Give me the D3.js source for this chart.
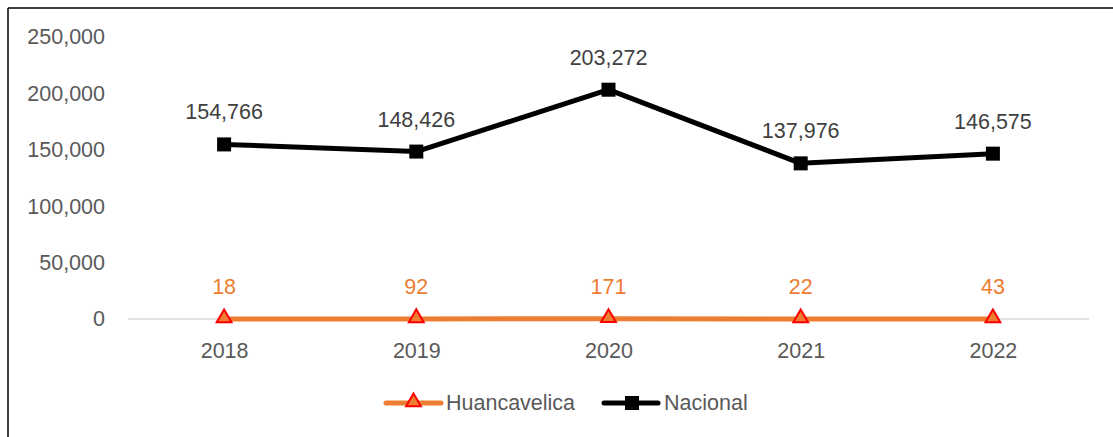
<!DOCTYPE html>
<html>
<head>
<meta charset="utf-8">
<script src="https://cdn.jsdelivr.net/npm/d3@7"></script>
<style>
  body { margin: 0; background: #fff; }
  svg { display: block; }
  text { font-family: "Liberation Sans", Arial, sans-serif; }
</style>
</head>
<body>
<div id="chart"></div>
<script>
const years = ["2018", "2019", "2020", "2021", "2022"]
const huancavelica = [18, 92, 171, 22, 43]
const nacional = [154766, 148426, 203272, 137976, 146575]
const yTicks = [0, 50000, 100000, 150000, 200000, 250000]

const W = 1113, H = 437
const MARGIN = { TOP: 37, LEFT: 128, RIGHT: 24, BOTTOM: 118 }
const ORANGE = "#ED7D31"
const GREY = "#595959"
const FS = "21.5px"

const svg = d3.select("#chart").append("svg")
	.attr("width", W)
	.attr("height", H)

// frame (only top and left edges are visible in the crop)
svg.append("line").attr("x1", 8).attr("y1", 8).attr("x2", W).attr("y2", 8)
	.attr("stroke", "#000").attr("stroke-width", 1.5)
svg.append("line").attr("x1", 8).attr("y1", 8).attr("x2", 8).attr("y2", H)
	.attr("stroke", "#000").attr("stroke-width", 1.5)

const x = d3.scalePoint()
	.domain(years)
	.range([MARGIN.LEFT, W - MARGIN.RIGHT])
	.padding(0.5)

const y = d3.scaleLinear()
	.domain([0, 250000])
	.range([H - MARGIN.BOTTOM, MARGIN.TOP])

const fmt = d3.format(",")

// y axis labels
const yAxis = svg.append("g")
	.attr("transform", `translate(${MARGIN.LEFT - 23},0)`)
	.call(d3.axisLeft(y).tickValues(yTicks).tickFormat(fmt).tickSize(0))
yAxis.select(".domain").remove()
yAxis.selectAll("text")
	.attr("x", 0)
	.attr("fill", GREY)
	.style("font-size", FS)

// baseline
svg.append("line")
	.attr("x1", MARGIN.LEFT).attr("x2", W - MARGIN.RIGHT)
	.attr("y1", y(0)).attr("y2", y(0))
	.attr("stroke", "#d9d9d9").attr("stroke-width", 1.5)

// x axis labels
const xAxis = svg.append("g")
	.attr("transform", `translate(0,${y(0)})`)
	.call(d3.axisBottom(x).tickSize(0))
xAxis.select(".domain").remove()
xAxis.selectAll("text")
	.attr("dy", "0")
	.attr("y", 39)
	.attr("fill", GREY)
	.style("font-size", FS)

const line = d3.line()
	.x((d, i) => x(years[i]))
	.y(d => y(d))

// Huancavelica
svg.append("path")
	.datum(huancavelica)
	.attr("d", line)
	.attr("fill", "none")
	.attr("stroke", ORANGE)
	.attr("stroke-width", 5)

const tri = d3.symbol().type(d3.symbolTriangle).size(95)

svg.selectAll("path.hTri")
	.data(huancavelica)
	.enter().append("path")
		.attr("class", "hTri")
		.attr("d", tri)
		.attr("transform", (d, i) => `translate(${x(years[i])},${y(d) - 1})`)
		.attr("fill", ORANGE)
		.attr("stroke", "#FF0000")
		.attr("stroke-width", 2)

svg.selectAll("text.hLabel")
	.data(huancavelica)
	.enter().append("text")
		.attr("class", "hLabel")
		.attr("x", (d, i) => x(years[i]))
		.attr("y", d => y(d) - 25)
		.attr("text-anchor", "middle")
		.attr("fill", ORANGE)
		.style("font-size", FS)
		.text(d => fmt(d))

// Nacional
svg.append("path")
	.datum(nacional)
	.attr("d", line)
	.attr("fill", "none")
	.attr("stroke", "#000")
	.attr("stroke-width", 5)
	.attr("stroke-linejoin", "round")

svg.selectAll("rect.nSq")
	.data(nacional)
	.enter().append("rect")
		.attr("class", "nSq")
		.attr("x", (d, i) => x(years[i]) - 7)
		.attr("y", d => y(d) - 7)
		.attr("width", 14)
		.attr("height", 14)
		.attr("fill", "#000")

svg.selectAll("text.nLabel")
	.data(nacional)
	.enter().append("text")
		.attr("class", "nLabel")
		.attr("x", (d, i) => x(years[i]))
		.attr("y", d => y(d) - 25)
		.attr("text-anchor", "middle")
		.attr("fill", "#404040")
		.style("font-size", FS)
		.text(d => fmt(d))

// legend
const legend = svg.append("g").attr("transform", "translate(0,403)")

const lg1 = legend.append("g").attr("transform", "translate(386,0)")
lg1.append("line").attr("x1", 0).attr("x2", 55).attr("y1", 0).attr("y2", 0)
	.attr("stroke", ORANGE).attr("stroke-width", 5).attr("stroke-linecap", "round")
lg1.append("path").attr("d", tri).attr("transform", "translate(27.5,-1)")
	.attr("fill", ORANGE).attr("stroke", "#FF0000").attr("stroke-width", 2)
lg1.append("text").attr("x", 60).attr("y", 7).attr("fill", GREY)
	.style("font-size", "21.5px").text("Huancavelica")

const lg2 = legend.append("g").attr("transform", "translate(604,0)")
lg2.append("line").attr("x1", 0).attr("x2", 54).attr("y1", 0).attr("y2", 0)
	.attr("stroke", "#000").attr("stroke-width", 5).attr("stroke-linecap", "round")
lg2.append("rect").attr("x", 21).attr("y", -7).attr("width", 14).attr("height", 14)
	.attr("fill", "#000")
lg2.append("text").attr("x", 60).attr("y", 7).attr("fill", GREY)
	.style("font-size", "21.5px").text("Nacional")
</script>
</body>
</html>
